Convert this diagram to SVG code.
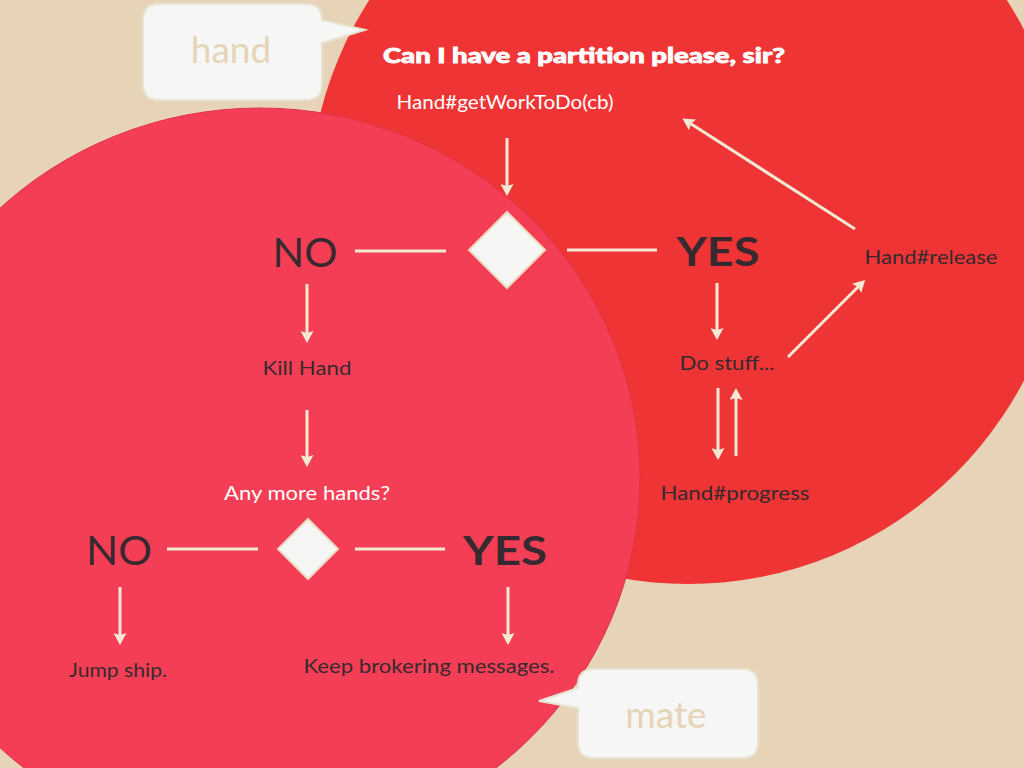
<svg xmlns="http://www.w3.org/2000/svg" width="1024" height="768" viewBox="0 0 1024 768">
  <style>
    .lbl { font-family: Lato, "Open Sans", "Liberation Sans", sans-serif; fill: #362a30; text-anchor: middle; }
    .small { font-size: 20px; }
    .big { font-size: 40px; }
    .bold { font-weight: bold; }
    .heavy { font-weight: 900; stroke: #ffffff; stroke-width: 0.8; }
    .white { fill: #ffffff; }
    .tag { font-family: Lato, "Open Sans", "Liberation Sans", sans-serif; font-size: 37px; fill: #e6d4b8; text-anchor: middle; }
    .bubble { fill: #f6f6f4; stroke: #e8e4d3; stroke-width: 2; }
    .diamond { fill: #f6f6f4; stroke: #eadcc2; stroke-width: 2; }
    .wire { stroke: #f2e8d3; stroke-width: 3; fill: none; }
    .arrow { marker-end: url(#head); }
  </style>
  <defs>
    <marker id="head" viewBox="0 0 12 13" refX="9" refY="6.5" markerWidth="12" markerHeight="13" markerUnits="userSpaceOnUse" orient="auto">
      <path d="M0,0 L12,6.5 L0,13 L2,6.5 Z" fill="#f2e8d3"/>
    </marker>
  </defs>

  <!-- backdrop -->
  <rect width="1024" height="768" fill="#e7d4b8"/>
  <circle id="hand-zone" cx="688" cy="205" r="379" fill="#ee3434"/>
  <ellipse id="mate-zone" cx="260" cy="478" rx="380" ry="370" fill="#f43e55" stroke="#de3447" stroke-width="1"/>

  <!-- speech bubbles -->
  <g id="bubble-hand">
    <path class="bubble" d="M159,4 H306 Q322,4 322,20 L365,30 L322,43 V84 Q322,100 306,100 H159 Q143,100 143,84 V20 Q143,4 159,4 Z"/>
    <text class="tag" x="231" y="63">hand</text>
  </g>
  <g id="bubble-mate">
    <path class="bubble" d="M594,669 H742 Q758,669 758,685 V742 Q758,758 742,758 H594 Q578,758 578,742 V708 L539,701 L578,688 V685 Q578,669 594,669 Z"/>
    <text class="tag" x="666" y="728">mate</text>
  </g>

  <!-- connectors -->
  <g id="connectors">
    <line class="wire arrow" x1="507" y1="138" x2="507" y2="193"/>
    <line class="wire" x1="355" y1="251" x2="446" y2="251"/>
    <line class="wire" x1="567" y1="250" x2="657" y2="250"/>
    <line class="wire arrow" x1="307" y1="284" x2="307" y2="340"/>
    <line class="wire arrow" x1="307" y1="410" x2="307" y2="464"/>
    <line class="wire" x1="167" y1="549" x2="258" y2="549"/>
    <line class="wire" x1="355" y1="549" x2="445" y2="549"/>
    <line class="wire arrow" x1="120" y1="587" x2="120" y2="642"/>
    <line class="wire arrow" x1="508" y1="587" x2="508" y2="642"/>
    <line class="wire arrow" x1="717" y1="283" x2="717" y2="337"/>
    <line class="wire arrow" x1="718" y1="388" x2="718" y2="457"/>
    <line class="wire arrow" x1="736" y1="456" x2="736" y2="391"/>
    <line class="wire arrow" x1="788" y1="357" x2="863" y2="282"/>
    <line class="wire arrow" x1="855" y1="229" x2="685" y2="120"/>
  </g>

  <!-- nodes -->
  <g id="request">
    <text class="lbl heavy white" x="584" y="63" font-size="21" textLength="402" lengthAdjust="spacingAndGlyphs">Can I have a partition please, sir?</text>
    <text class="lbl small white" x="505" y="109" textLength="217" lengthAdjust="spacingAndGlyphs">Hand#getWorkToDo(cb)</text>
  </g>
  <g id="decision-partition">
    <polygon class="diamond" points="507,212 545,250 507,288 469,250"/>
  </g>
  <g id="no-partition">
    <text class="lbl big" x="305" y="267" textLength="65" lengthAdjust="spacingAndGlyphs">NO</text>
  </g>
  <g id="yes-partition">
    <text class="lbl big bold" x="718" y="266" textLength="83" lengthAdjust="spacingAndGlyphs">YES</text>
  </g>
  <g id="kill-hand">
    <text class="lbl small" x="307" y="375" textLength="89" lengthAdjust="spacingAndGlyphs">Kill Hand</text>
  </g>
  <g id="any-more-hands">
    <text class="lbl small white" x="307" y="500" textLength="166" lengthAdjust="spacingAndGlyphs">Any more hands?</text>
  </g>
  <g id="decision-hands">
    <polygon class="diamond" points="308,519 338,549 308,579 278,549"/>
  </g>
  <g id="no-hands">
    <text class="lbl big" x="119" y="565" textLength="66" lengthAdjust="spacingAndGlyphs">NO</text>
  </g>
  <g id="yes-hands">
    <text class="lbl big bold" x="505" y="565" textLength="84" lengthAdjust="spacingAndGlyphs">YES</text>
  </g>
  <g id="jump-ship">
    <text class="lbl small" x="118" y="677" textLength="98" lengthAdjust="spacingAndGlyphs">Jump ship.</text>
  </g>
  <g id="keep-brokering">
    <text class="lbl small" x="429" y="673" textLength="251" lengthAdjust="spacingAndGlyphs">Keep brokering messages.</text>
  </g>
  <g id="do-stuff">
    <text class="lbl small" x="727" y="370" textLength="95" lengthAdjust="spacingAndGlyphs">Do stuff...</text>
  </g>
  <g id="hand-progress">
    <text class="lbl small" x="735" y="500" textLength="149" lengthAdjust="spacingAndGlyphs">Hand#progress</text>
  </g>
  <g id="hand-release">
    <text class="lbl small" x="931" y="264" textLength="133" lengthAdjust="spacingAndGlyphs">Hand#release</text>
  </g>
</svg>
